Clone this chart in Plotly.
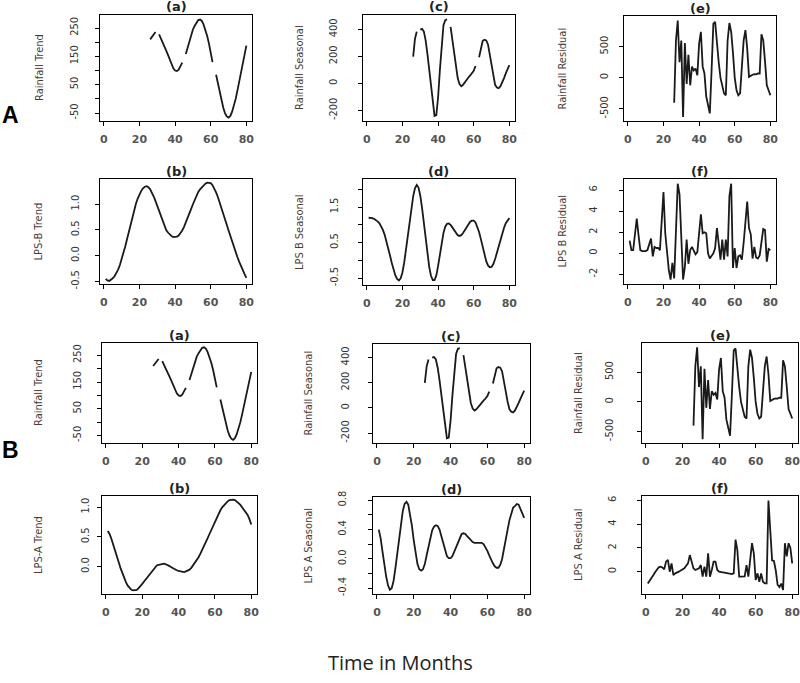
import plotly.graph_objects as go

W, H = 800, 683
N = None

# ---------------- data ----------------
months = list(range(1, 81))
x_ticks = [0, 20, 40, 60, 80]
x_tick_labels = ["0", "20", "40", "60", "80"]

rain_trend = [N] * 25 + [
    210, 220, 230, 236, N, 228, 215, 200, 185, 170, 155, 138, 122, 108, 100,
    98, 103, 115, 128, N, 158, 180, 205, 228, 245, 258, 270, 278, 280, 275,
    262, 245, 222, 195, 165, 130, N, 85, 55, 25, -5, -30, -50, -62, -66,
    -60, -45, -25, 0, 30, 60, 95, 125, 155, 188]

rain_seasonal = [N] * 25 + [
    200, 330, 385, N, 400, 405, 385, 320, 220, 110, -10, -150, -240, -235, -100,
    100, 300, 430, 470, 475, N, 420, 330, 220, 120, 40, -5, -20, -10, 10,
    30, 45, 60, 75, 95, 130, N, 195, 270, 315, 325, 320, 290, 220, 130,
    50, -10, -30, -35, -20, 5, 40, 75, 110, 137]

rain_residual = [N] * 25 + [
    -400, 600, 920, 250, 600, -630, 560, -100, 370, -120, 180, 120, 150, 40, 550,
    740, 180, 70, -300, -470, -570, 120, 870, 900, 550, 250, 0, -150, -250, -280,
    600, 880, 740, 400, 0, -200, -280, -250, 150, 600, 765, 470, 16, 40, 50,
    60, 55, 70, 70, 700, 600, 260, -120, -200, -280]

lpsb_trend = [
    -0.45, -0.48, -0.49, -0.47, -0.44, -0.40, -0.34, -0.27, -0.18, -0.07,
    0.05, 0.18, 0.32, 0.47, 0.62, 0.77, 0.90, 1.01, 1.11, 1.19,
    1.26, 1.31, 1.34, 1.35, 1.33, 1.29, 1.23, 1.15, 1.06, 0.96,
    0.86, 0.76, 0.66, 0.57, 0.50, 0.45, 0.41, 0.38, 0.36, 0.36,
    0.37, 0.39, 0.43, 0.49, 0.56, 0.64, 0.73, 0.82, 0.91, 1.00,
    1.09, 1.17, 1.24, 1.29, 1.33, 1.37, 1.40, 1.42, 1.42, 1.41,
    1.37, 1.31, 1.23, 1.14, 1.04, 0.93, 0.82, 0.71, 0.60, 0.49,
    0.38, 0.27, 0.17, 0.07, -0.03, -0.12, -0.21, -0.29, -0.36, -0.43]

lpsb_seasonal = [
    1.20, 1.20, 1.19, 1.17, 1.14, 1.10, 1.05, 0.97, 0.86, 0.72,
    0.55, 0.35, 0.14, -0.07, -0.26, -0.42, -0.52, -0.56, -0.50, -0.33,
    -0.05, 0.30, 0.70, 1.10, 1.48, 1.80, 2.03, 2.12, 2.05, 1.82,
    1.47, 1.05, 0.60, 0.17, -0.18, -0.43, -0.55, -0.55, -0.42, -0.15,
    0.18, 0.50, 0.77, 0.95, 1.03, 1.04, 1.00, 0.93, 0.85, 0.77,
    0.71, 0.69, 0.71, 0.77, 0.86, 0.95, 1.03, 1.09, 1.12, 1.12,
    1.07, 0.96, 0.80, 0.60, 0.38, 0.16, -0.02, -0.14, -0.19, -0.18,
    -0.10, 0.04, 0.22, 0.42, 0.60, 0.77, 0.92, 1.05, 1.14, 1.19]

lpsb_residual = [
    1.2, 0.3, 0.3, 1.7, 3.3, 1.7, 0.3, 0.2, 0.2, 0.2,
    0.3, 1.0, 1.4, -0.3, 0.6, 0.5, 0.5, 0.3, 2.9, 5.8,
    1.9, 0.0, -1.6, -2.5, -0.9, -2.4, 2.0, 6.6, 5.6, 1.9,
    -2.5, -1.3, 1.3, -1.0, 0.3, 0.6, 0.2, -0.1, 0.1, 1.6,
    3.7, 1.9, 2.0, 1.9, 0.0, -0.5, -0.3, 0.0, 0.5, 2.4,
    0.9, -0.6, 1.3, -0.6, 1.3, -0.3, 5.4, 6.6, -1.4, 0.5,
    -1.4, -0.3, -0.2, -0.6, 1.0, 3.2, 4.9, 2.4, 1.8, -0.5,
    0.6, -0.4, -0.5, -0.2, 1.3, 2.3, 2.2, -0.8, 0.4, 0.3]

lpsa_trend = [
    0.60, 0.55, 0.47, 0.38, 0.28, 0.18, 0.08, -0.02, -0.11, -0.19,
    -0.26, -0.32, -0.36, -0.39, -0.40, -0.40, -0.39, -0.36, -0.33, -0.29,
    -0.25, -0.21, -0.16, -0.12, -0.08, -0.04, -0.01, 0.02, 0.03, 0.04,
    0.05, 0.05, 0.04, 0.03, 0.01, -0.01, -0.03, -0.05, -0.06, -0.07,
    -0.08, -0.09, -0.09, -0.08, -0.07, -0.05, -0.02, 0.02, 0.06, 0.10,
    0.16, 0.22, 0.28, 0.34, 0.41, 0.48, 0.55, 0.62, 0.69, 0.76,
    0.83, 0.89, 0.95, 1.00, 1.04, 1.07, 1.10, 1.12, 1.13, 1.13,
    1.12, 1.10, 1.07, 1.04, 1.00, 0.96, 0.92, 0.87, 0.80, 0.71]

lpsa_seasonal = [
    0.40, 0.28, 0.10, -0.08, -0.24, -0.36, -0.42, -0.40, -0.30, -0.13,
    0.08, 0.30, 0.50, 0.65, 0.75, 0.78, 0.74, 0.62, 0.45, 0.25,
    0.06, -0.07, -0.14, -0.16, -0.14, -0.07, 0.05, 0.18, 0.30, 0.39,
    0.44, 0.46, 0.45, 0.40, 0.31, 0.21, 0.11, 0.04, 0.01, 0.01,
    0.04, 0.10, 0.17, 0.24, 0.30, 0.34, 0.35, 0.34, 0.31, 0.28,
    0.25, 0.23, 0.22, 0.22, 0.23, 0.23, 0.22, 0.20, 0.16, 0.11,
    0.05, -0.01, -0.06, -0.10, -0.12, -0.12, -0.08, 0.00, 0.12, 0.26,
    0.40, 0.53, 0.63, 0.70, 0.72, 0.75, 0.74, 0.68, 0.60, 0.56]

lpsa_residual = [
    -1.0, -0.8, -0.5, -0.3, -0.05, 0.2, 0.37, 0.42, 0.35, 0.2,
    0.85, 1.0, 0.0, 0.7, -0.28, -0.14, -0.1, 0.0, 0.1, 0.2,
    0.28, 0.5, 0.7, 1.4, 0.7, 0.28, 0.14, 0.2, 0.28, 0.56,
    -0.42, 0.42, -0.42, 1.55, -0.42, 0.14, 0.85, 0.85, 0.14, 0.0,
    0.0, -0.05, -0.08, -0.1, -0.15, -0.2, -0.2, -0.14, 2.7, 1.8,
    -0.42, -0.42, -0.42, -0.4, 0.56, -0.42, 1.0, 2.4, 1.55, -0.7,
    -0.14, -0.85, -0.14, -0.85, -0.99, -0.99, 6.0, 3.0, 0.95, 0.9,
    0.1, -1.1, -1.3, -1.0, -1.55, 2.4, 1.3, 2.4, 2.0, 0.7]

# y tick values / labels
rt_ticks = [-50, 0, 50, 100, 150, 200, 250]
rt_labels = ["-50", "", "50", "", "150", "", "250"]
rs_ticks = [-200, 0, 200, 400]
rs_labels = ["-200", "0", "200", "400"]
rr_ticks = [-500, 0, 500]
rr_labels = ["-500", "0", "500"]
bt_ticks = [-0.5, 0.0, 0.5, 1.0]
bt_labels = ["-0.5", "0.0", "0.5", "1.0"]
bs_ticks = [-0.5, 0.0, 0.5, 1.0, 1.5, 2.0]
bs_labels = ["-0.5", "", "0.5", "", "1.5", ""]
br_ticks = [-2, 0, 2, 4, 6]
br_labels = ["-2", "0", "2", "4", "6"]
at_ticks = [0.0, 0.5, 1.0]
at_labels = ["0.0", "0.5", "1.0"]
as_ticks = [-0.4, -0.2, 0.0, 0.2, 0.4, 0.6, 0.8]
as_labels = ["-0.4", "", "0.0", "", "0.4", "", "0.8"]
ar_ticks = [0, 2, 4, 6]
ar_labels = ["0", "2", "4", "6"]

NARROW = "DejaVu Sans Condensed, Liberation Sans Narrow, Roboto, Liberation Sans, sans-serif"

# ---------------- layout spec ----------------
panels = [
    dict(y=rain_trend, yr=[-78, 296], tv=rt_ticks, tt=rt_labels, title="(a)", ytitle="Rainfall Trend",
         box=(100, 252, 15, 121), ylab_x=39, gap=23),
    dict(y=rain_seasonal, yr=[-278, 508], tv=rs_ticks, tt=rs_labels, title="(c)", ytitle="Rainfall Seasonal",
         box=(363, 515, 15, 121), ylab_x=299, gap=27),
    dict(y=rain_residual, yr=[-693, 993], tv=rr_ticks, tt=rr_labels, title="(e)", ytitle="Rainfall Residual",
         box=(624, 776, 16, 121), ylab_x=562, gap=17),
    dict(y=lpsb_trend, yr=[-0.55, 1.49], tv=bt_ticks, tt=bt_labels, title="(b)", ytitle="LPS-B Trend",
         box=(100, 252, 179, 284), ylab_x=38, gap=22),
    dict(y=lpsb_seasonal, yr=[-0.69, 2.29], tv=bs_ticks, tt=bs_labels, title="(d)", ytitle="LPS B Seasonal",
         box=(363, 515, 179, 285), ylab_x=299, gap=26),
    dict(y=lpsb_residual, yr=[-2.92, 7.05], tv=br_ticks, tt=br_labels, title="(f)", ytitle="LPS B Residual",
         box=(624, 776, 179, 284), ylab_x=562, gap=28),
    dict(y=rain_trend, yr=[-78, 296], tv=rt_ticks, tt=rt_labels, title="(a)", ytitle="Rainfall Trend",
         box=(102, 257, 343, 443), ylab_x=38, gap=22),
    dict(y=rain_seasonal, yr=[-278, 508], tv=rs_ticks, tt=rs_labels, title="(c)", ytitle="Rainfall Seasonal",
         box=(373, 530, 344, 443), ylab_x=308, gap=25),
    dict(y=rain_residual, yr=[-693, 993], tv=rr_ticks, tt=rr_labels, title="(e)", ytitle="Rainfall Residual",
         box=(642, 798, 343, 443), ylab_x=578, gap=30),
    dict(y=lpsa_trend, yr=[-0.46, 1.19], tv=at_ticks, tt=at_labels, title="(b)", ytitle="LPS-A Trend",
         box=(102, 257, 496, 594), ylab_x=38, gap=14),
    dict(y=lpsa_seasonal, yr=[-0.478, 0.845], tv=as_ticks, tt=as_labels, title="(d)", ytitle="LPS A Seasonal",
         box=(373, 530, 497, 594), ylab_x=308, gap=28),
    dict(y=lpsa_residual, yr=[-1.88, 6.38], tv=ar_ticks, tt=ar_labels, title="(f)", ytitle="LPS A Residual",
         box=(642, 798, 496, 594), ylab_x=578, gap=27),
]

fig = go.Figure()
annotations = []
xr = [1 - 0.04 * 79, 80 + 0.04 * 79]

for i, p in enumerate(panels):
    n = "" if i == 0 else str(i + 1)
    l, r, t, b = p["box"]
    fig.add_trace(go.Scatter(
        x=months, y=p["y"], mode="lines", xaxis="x" + n, yaxis="y" + n,
        line=dict(color="#1a1a1a", width=1.8), connectgaps=False, showlegend=False,
        hoverinfo="skip"))
    common = dict(showline=True, mirror=True, linecolor="black", linewidth=1,
                  ticks="outside", ticklen=4, tickcolor="black", tickwidth=1,
                  showgrid=False, zeroline=False, fixedrange=True, automargin=False,
                  ticklabeloverflow="allow")
    fig.layout["xaxis" + n] = dict(
        domain=[l / W, r / W], anchor="y" + n, range=xr,
        tickmode="array", tickvals=x_ticks, ticktext=x_tick_labels,
        tickfont=dict(family="DejaVu Sans, sans-serif", size=11, color="#555555", weight="bold"),
        ticklabelstandoff=4, **common)
    fig.layout["yaxis" + n] = dict(
        domain=[1 - b / H, 1 - t / H], anchor="x" + n, range=p["yr"],
        tickmode="array", tickvals=p["tv"], ticktext=p["tt"], tickangle=-90,
        tickfont=dict(family=NARROW, size=11, color="#333333"),
        ticklabelstandoff=max(0, p["gap"] - 10), **common)
    annotations.append(dict(
        text=p["title"], x=(l + r) / 2 / W, y=1 - (t - 8) / H, xref="paper", yref="paper",
        showarrow=False, xanchor="center", yanchor="middle",
        font=dict(family="DejaVu Sans, sans-serif", size=13, color="#222222", weight="bold")))
    annotations.append(dict(
        text=p["ytitle"], x=p["ylab_x"] / W, y=1 - (t + b) / 2 / H, xref="paper", yref="paper",
        showarrow=False, xanchor="center", yanchor="middle", textangle=-90,
        font=dict(family=NARROW, size=11, color="#4a3b36")))

annotations.append(dict(text="A", x=10 / W, y=1 - 115 / H, xref="paper", yref="paper",
                        showarrow=False, xanchor="center", yanchor="middle",
                        font=dict(family="Liberation Sans, sans-serif", size=23, color="black", weight="bold")))
annotations.append(dict(text="B", x=10 / W, y=1 - 450 / H, xref="paper", yref="paper",
                        showarrow=False, xanchor="center", yanchor="middle",
                        font=dict(family="Liberation Sans, sans-serif", size=23, color="black", weight="bold")))
annotations.append(dict(text="Time in Months", x=400 / W, y=1 - 662 / H, xref="paper", yref="paper",
                        showarrow=False, xanchor="center", yanchor="middle",
                        font=dict(family="Open Sans, sans-serif", size=20, color="#222222")))

fig.update_layout(width=W, height=H, autosize=False, margin=dict(l=0, r=0, t=0, b=0),
                  paper_bgcolor="white", plot_bgcolor="white", annotations=annotations,
                  showlegend=False)

fig.write_html("out.html", config={"displayModeBar": False, "staticPlot": True},
               post_script="document.body.style.margin='0';document.body.style.overflow='hidden';")
